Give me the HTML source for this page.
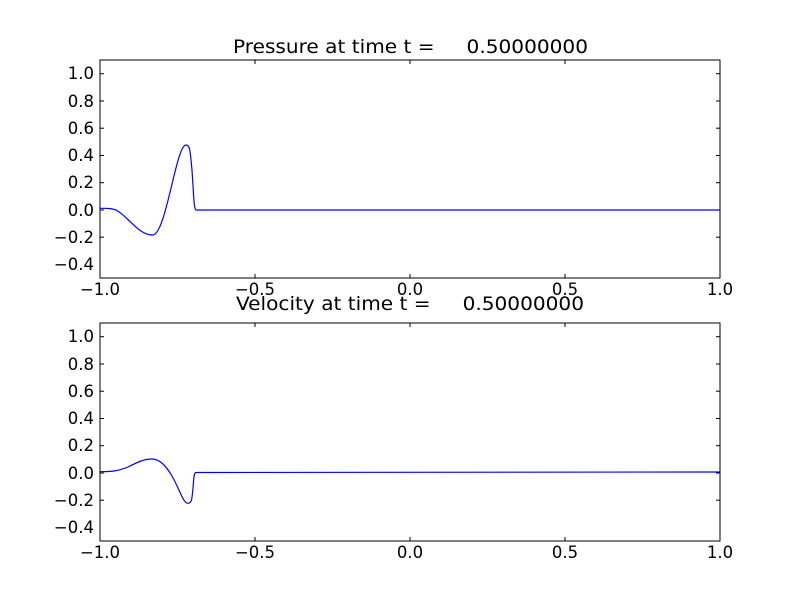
<!DOCTYPE html>
<html><head><style>body{margin:0;background:#fff}svg text{font-family:"DejaVu Sans","Liberation Sans",sans-serif}</style></head>
<body><svg width="800" height="600" xmlns="http://www.w3.org/2000/svg">
<rect width="800" height="600" fill="#fff"/>
<g font-size="16.5" fill="#000">
<!-- top axes -->
<text x="410.5" y="53" font-size="19" text-anchor="middle" textLength="355" lengthAdjust="spacingAndGlyphs" xml:space="preserve">Pressure at time t =     0.50000000</text>
<g stroke="#000" stroke-width="1">
<line x1="100" y1="237.2" x2="104" y2="237.2"/><line x1="716" y1="237.2" x2="720" y2="237.2"/>
<line x1="100" y1="210" x2="104" y2="210"/><line x1="716" y1="210" x2="720" y2="210"/>
<line x1="100" y1="182.7" x2="104" y2="182.7"/><line x1="716" y1="182.7" x2="720" y2="182.7"/>
<line x1="100" y1="155.5" x2="104" y2="155.5"/><line x1="716" y1="155.5" x2="720" y2="155.5"/>
<line x1="100" y1="128.2" x2="104" y2="128.2"/><line x1="716" y1="128.2" x2="720" y2="128.2"/>
<line x1="100" y1="101" x2="104" y2="101"/><line x1="716" y1="101" x2="720" y2="101"/>
<line x1="100" y1="73.7" x2="104" y2="73.7"/><line x1="716" y1="73.7" x2="720" y2="73.7"/>
<line x1="255" y1="278" x2="255" y2="274"/><line x1="255" y1="60" x2="255" y2="64"/>
<line x1="410" y1="278" x2="410" y2="274"/><line x1="410" y1="60" x2="410" y2="64"/>
<line x1="565" y1="278" x2="565" y2="274"/><line x1="565" y1="60" x2="565" y2="64"/>
</g>
<path d="M100,208.3 C106,208.3 110,208 116,210 C128,216 138,235 152.7,235 C166,235 176,145 186,145 C190,145 190,150 192,170 C194,200 194,209 196,210 L720,210" fill="none" stroke="#0000ff" stroke-width="1.2"/>
<rect x="100" y="60" width="620" height="218" fill="none" stroke="#000"/>
<g text-anchor="end">
<text x="94" y="270">−0.4</text><text x="94" y="243">−0.2</text><text x="94" y="216">0.0</text>
<text x="94" y="188">0.2</text><text x="94" y="161">0.4</text><text x="94" y="134">0.6</text>
<text x="94" y="107">0.8</text><text x="94" y="79">1.0</text>
</g>
<g text-anchor="middle">
<text x="100" y="295">−1.0</text><text x="255" y="295">−0.5</text><text x="410" y="295">0.0</text><text x="565" y="295">0.5</text><text x="720" y="295">1.0</text>
</g>
<!-- bottom axes -->
<text x="410" y="310" font-size="19" text-anchor="middle" textLength="348" lengthAdjust="spacingAndGlyphs" xml:space="preserve">Velocity at time t =     0.50000000</text>
<g stroke="#000" stroke-width="1">
<line x1="100" y1="500.2" x2="104" y2="500.2"/><line x1="716" y1="500.2" x2="720" y2="500.2"/>
<line x1="100" y1="473" x2="104" y2="473"/><line x1="716" y1="473" x2="720" y2="473"/>
<line x1="100" y1="445.7" x2="104" y2="445.7"/><line x1="716" y1="445.7" x2="720" y2="445.7"/>
<line x1="100" y1="418.5" x2="104" y2="418.5"/><line x1="716" y1="418.5" x2="720" y2="418.5"/>
<line x1="100" y1="391.2" x2="104" y2="391.2"/><line x1="716" y1="391.2" x2="720" y2="391.2"/>
<line x1="100" y1="364" x2="104" y2="364"/><line x1="716" y1="364" x2="720" y2="364"/>
<line x1="100" y1="336.7" x2="104" y2="336.7"/><line x1="716" y1="336.7" x2="720" y2="336.7"/>
<line x1="255" y1="541" x2="255" y2="537"/><line x1="255" y1="323" x2="255" y2="327"/>
<line x1="410" y1="541" x2="410" y2="537"/><line x1="410" y1="323" x2="410" y2="327"/>
<line x1="565" y1="541" x2="565" y2="537"/><line x1="565" y1="323" x2="565" y2="327"/>
</g>
<path d="M100,471.7 C112,471.7 118,471 128,467 C138,462 144,459 151.7,459 C160,459 166,466 172,476 C180,490 183,503.3 188,503.3 C192,503.3 192,498 193,488 C194,476 194,473 196,472.5 L720,472" fill="none" stroke="#0000ff" stroke-width="1.2"/>
<rect x="100" y="323" width="620" height="218" fill="none" stroke="#000"/>
<g text-anchor="end">
<text x="94" y="533">−0.4</text><text x="94" y="506">−0.2</text><text x="94" y="479">0.0</text>
<text x="94" y="451">0.2</text><text x="94" y="424">0.4</text><text x="94" y="397">0.6</text>
<text x="94" y="370">0.8</text><text x="94" y="342">1.0</text>
</g>
<g text-anchor="middle">
<text x="100" y="558">−1.0</text><text x="255" y="558">−0.5</text><text x="410" y="558">0.0</text><text x="565" y="558">0.5</text><text x="720" y="558">1.0</text>
</g>
</g>
</svg></body></html>
